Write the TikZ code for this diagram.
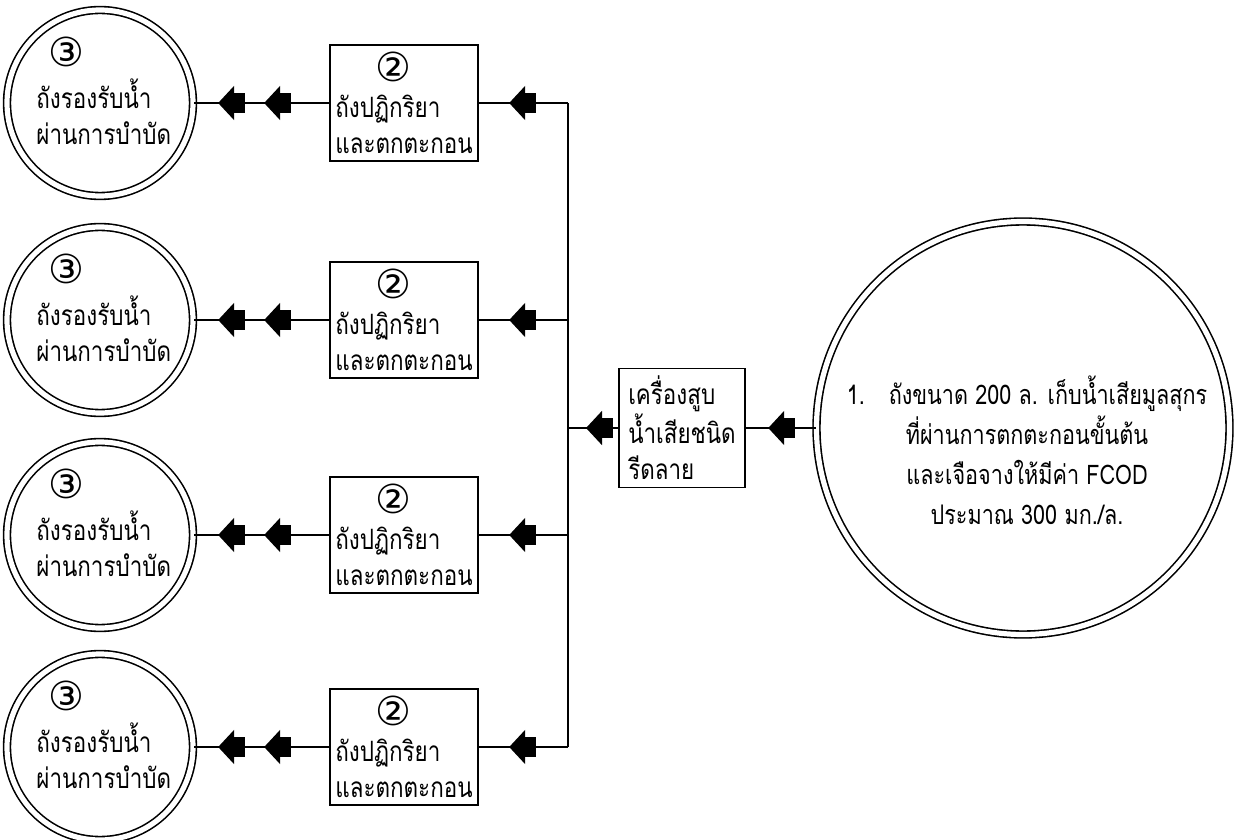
\documentclass[tikz,border=0pt]{standalone}
\usepackage{fontspec}
\setmainfont{Loma}[Script=Thai, FakeStretch=0.8]
\newfontfamily\numfont{DejaVu Sans}
\usetikzlibrary{arrows.meta,decorations.markings,positioning}

\newcommand{\cnum}[1]{{\numfont\fontsize{20pt}{18pt}\selectfont #1}}

\begin{document}
\begin{tikzpicture}[x=0.5pt, y=-0.5pt,
    every node/.style={font=\fontsize{14pt}{18pt}\selectfont},
    pond/.style={circle, draw, line width=0.8pt, double, double distance=2.6pt, minimum size=93pt, inner sep=0pt},
    bigpond/.style={pond, minimum size=206.5pt},
    reactor/.style={draw, line width=0.9pt, minimum width=74pt, minimum height=58pt, align=left, inner sep=2pt},
    pumpbox/.style={reactor, minimum width=63pt, minimum height=59.5pt},
    pondtext/.style={align=left, inner sep=0pt, anchor=west},
    pipe/.style={line width=1pt},
    flowtip/.style={postaction={decorate, decoration={markings,
      mark=at position #1 with {\arrow{Square[length=5.5pt,width=10pt]Triangle[length=8pt,width=17pt]}}}}}]
    \useasboundingbox (0,0) rectangle (1239,840);
    % source tank and pump
    \node[bigpond] (tank) at (1023,428) {};
    \node[align=center, font=\fontsize{13.5pt}{20pt}\selectfont] (tanktext) at (1027,450)
      {1.\hspace{12pt}ถังขนาด 200 ล. เก็บน้ำเสียมูลสุกร\\ที่ผ่านการตกตะกอนขั้นต้น\\และเจือจางให้มีค่า FCOD\\ประมาณ 300 มก./ล.};
    \node[pumpbox] (pump) at (682,428) {เครื่องสูบ\\น้ำเสียชนิด\\รีดลาย};
    \coordinate (jp) at (568,428);
    \coordinate (j1) at (568,103);
    \coordinate (j2) at (568,320);
    \coordinate (j3) at (568,535);
    \coordinate (j4) at (568,747);
    % reactors
    \node[reactor] (react1) at (404,103) {\hspace*{20pt}\cnum{②}\\ถังปฏิกริยา\\และตกตะกอน};
    \node[reactor] (react2) at (404,320) {\hspace*{20pt}\cnum{②}\\ถังปฏิกริยา\\และตกตะกอน};
    \node[reactor] (react3) at (404,535) {\hspace*{20pt}\cnum{②}\\ถังปฏิกริยา\\และตกตะกอน};
    \node[reactor] (react4) at (404,747) {\hspace*{20pt}\cnum{②}\\ถังปฏิกริยา\\และตกตะกอน};
    % receiving tanks
    \node[pond] (recv1) at (100,103) {};
    \node[pond] (recv2) at (100,320) {};
    \node[pond] (recv3) at (100,535) {};
    \node[pond] (recv4) at (100,747) {};
    \node[pondtext] (recvtext1) at (36,91) {\hspace*{6pt}\cnum{③}\\[3pt]ถังรองรับน้ำ\\ผ่านการบำบัด};
    \node[pondtext] (recvtext2) at (36,308) {\hspace*{6pt}\cnum{③}\\[3pt]ถังรองรับน้ำ\\ผ่านการบำบัด};
    \node[pondtext] (recvtext3) at (36,523) {\hspace*{6pt}\cnum{③}\\[3pt]ถังรองรับน้ำ\\ผ่านการบำบัด};
    \node[pondtext] (recvtext4) at (36,735) {\hspace*{6pt}\cnum{③}\\[3pt]ถังรองรับน้ำ\\ผ่านการบำบัด};
    % pipes
    \draw[pipe, flowtip=0.68] (tank.west) -- (pump.east);
    \draw[pipe, flowtip=0.64] (pump.west) -- (jp);
    \draw[pipe] (j1) -- (j4);
    \draw[pipe, flowtip=0.66] (j1) -- (react1.east);
    \draw[pipe, flowtip=0.66] (j2) -- (react2.east);
    \draw[pipe, flowtip=0.66] (j3) -- (react3.east);
    \draw[pipe, flowtip=0.66] (j4) -- (react4.east);
    \draw[pipe, flowtip=0.48, flowtip=0.82] (react1.west) -- (recv1.east);
    \draw[pipe, flowtip=0.48, flowtip=0.82] (react2.west) -- (recv2.east);
    \draw[pipe, flowtip=0.48, flowtip=0.82] (react3.west) -- (recv3.east);
    \draw[pipe, flowtip=0.48, flowtip=0.82] (react4.west) -- (recv4.east);
\end{tikzpicture}
\end{document}
